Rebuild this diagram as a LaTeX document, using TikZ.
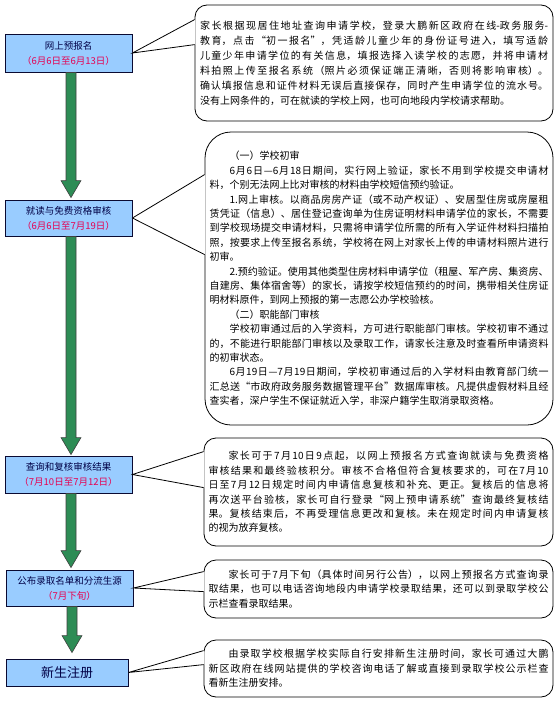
\documentclass[tikz,border=0pt]{standalone}
\usepackage{fontspec}
\newfontfamily\cjk{Noto Sans CJK SC}
\XeTeXlinebreaklocale "zh"
\XeTeXlinebreakskip=0pt plus 1.5pt
\hbadness=10000
\usetikzlibrary{positioning,calc}
\definecolor{boxblue}{RGB}{153,204,255}
\definecolor{boxline}{RGB}{10,10,50}
\definecolor{titlenavy}{RGB}{0,0,70}
\definecolor{datered}{RGB}{230,0,80}
\definecolor{arrowgreen}{RGB}{45,140,85}
\def\when#1{{\color{datered}#1}}
\def\indt{\hspace*{2em}}
% green block arrow from one step box down to the next
\newcommand\flowto[3]{%
  \draw[flowarrow] let \p1=([xshift=2.5pt]#1.south), \p2=([xshift=2.5pt]#2.north) in
    (\x1-5pt,\y1) -- (\x1-5pt,\y2+#3pt+17pt) -- (\x1-10pt,\y2+#3pt+17pt)
    -- (\x1,\y2+#3pt) -- (\x1+10pt,\y2+#3pt+17pt) -- (\x1+5pt,\y2+#3pt+17pt)
    -- (\x1+5pt,\y1) -- cycle;}

\begin{document}
\begin{tikzpicture}[x=1pt, y=-1pt,
    stepbox/.style = {draw=boxline, line width=0.9pt, fill=boxblue,
      minimum width=127pt, align=center, inner sep=2pt, text=titlenavy,
      font=\cjk\fontsize{9.5}{15}\selectfont},
    notebox/.style = {draw=black, line width=0.8pt, fill=white,
      rounded corners=12pt, minimum width=349pt, inner sep=4.5pt,
      text width=340pt, align=justify,
      font=\cjk\fontsize{10}{14.4}\selectfont},
    flowarrow/.style = {draw=black!75, line width=0.6pt, fill=arrowgreen},
    tail/.style = {draw=black, line width=0.8pt}]
\path[use as bounding box, fill=white] (0,0) rectangle (557,704);

% steps on the left
\node[stepbox, minimum height=38pt] (b1) at (68.5,53)
  {网上预报名\\\when{（6月6日至6月13日）}};
\node[stepbox, minimum height=36pt] (b2) at (68.5,218)
  {就读与免费资格审核\\\when{（6月6日至7月19日）}};
\node[stepbox, minimum height=37pt] (b3) at (68.5,474.5)
  {查询和复核审核结果\\\when{（7月10日至7月12日）}};
\node[stepbox, minimum height=36pt] (b4) at (69.5,588)
  {公布录取名单和分流生源\\\when{（7月下旬）}};
\node[stepbox, minimum height=27pt, minimum width=122pt,
      font=\cjk\fontsize{13}{15}\selectfont] (b5) at (67,672.5) {新生注册};

\flowto{b1}{b2}{2}
\flowto{b2}{b3}{1}
\flowto{b3}{b4}{2}
\flowto{b4}{b5}{6}

% notes on the right
\node[notebox, minimum width=358pt, minimum height=116pt, text width=348pt,
      font=\cjk\fontsize{10}{15}\selectfont] (c1) at (374,63) {%
家长根据现居住地址查询申请学校，登录大鹏新区政府在线-政务服务-\linebreak
教育，点击“初一报名”，凭适龄儿童少年的身份证号进入，填写适龄\linebreak
儿童少年申请学位的有关信息，填报选择入读学校的志愿，并将申请材\linebreak
料拍照上传至报名系统（照片必须保证端正清晰，否则将影响审核）。\linebreak
确认填报信息和证件材料无误后直接保存，同时产生申请学位的流水号。\linebreak
没有上网条件的，可在就读的学校上网，也可向地段内学校请求帮助。};

\node[notebox, rounded corners=26pt, minimum width=348pt, minimum height=293pt,
      text width=339pt] (c2) at (379,278.5) {%
\indt（一）学校初审\par
\indt 6月6日—6月18日期间，实行网上验证，家长不用到学校提交申请材\linebreak
料，个别无法网上比对审核的材料由学校短信预约验证。\par
\indt 1.网上审核。以商品房房产证（或不动产权证）、安居型住房或房屋租\linebreak
赁凭证（信息）、居住登记查询单为住房证明材料申请学位的家长，不需要\linebreak
到学校现场提交申请材料，只需将申请学位所需的所有入学证件材料扫描拍\linebreak
照，按要求上传至报名系统，学校将在网上对家长上传的申请材料照片进行\linebreak
初审。\par
\indt 2.预约验证。使用其他类型住房材料申请学位（租屋、军产房、集资房、\linebreak
自建房、集体宿舍等）的家长，请按学校短信预约的时间，携带相关住房证\linebreak
明材料原件，到网上预报的第一志愿公办学校验核。\par
\indt（二）职能部门审核\par
\indt 学校初审通过后的入学资料，方可进行职能部门审核。学校初审不通过\linebreak
的，不能进行职能部门审核以及录取工作，请家长注意及时查看所申请资料\linebreak
的初审状态。\par
\indt 6月19日—7月19日期间，学校初审通过后的入学材料由教育部门统一\linebreak
汇总送“市政府政务服务数据管理平台”数据库审核。凡提供虚假材料且经\linebreak
查实者，深户学生不保证就近入学，非深户籍学生取消录取资格。};

\node[notebox, minimum height=108pt] (c3) at (378.5,492) {%
\indt 家长可于7月10日9点起，以网上预报名方式查询就读与免费资格\linebreak
审核结果和最终验核积分。审核不合格但符合复核要求的，可在7月10\linebreak
日至7月12日规定时间内申请信息复核和补充、更正。复核后的信息将\linebreak
再次送平台验核，家长可自行登录“网上预申请系统”查询最终复核结\linebreak
果。复核结束后，不再受理信息更改和复核。未在规定时间内申请复核\linebreak
的视为放弃复核。};

\node[notebox, minimum height=58pt] (c4) at (378.5,589) {%
\indt 家长可于7月下旬（具体时间另行公告），以网上预报名方式查询录\linebreak
取结果，也可以电话咨询地段内申请学校录取结果，还可以到录取学校公\linebreak
示栏查看录取结果。};

\node[notebox, minimum height=57pt] (c5) at (378.5,668.5) {%
\indt 由录取学校根据学校实际自行安排新生注册时间，家长可通过大鹏\linebreak
新区政府在线网站提供的学校咨询电话了解或直接到录取学校公示栏查\linebreak
看新生注册安排。};

% callout tails
\foreach \n/\b/\ya/\yb in {c1/b1/15/40, c2/b2/43/123, c3/b3/14/50, c4/b4/12/32, c5/b5/11/25} {
  \fill[white] ([xshift=0.7pt,yshift=-\ya pt]\n.north west) -- (\b.east)
    -- ([xshift=0.7pt,yshift=-\yb pt]\n.north west) -- cycle;
  \draw[tail] ([yshift=-\ya pt]\n.north west) -- (\b.east)
    -- ([yshift=-\yb pt]\n.north west);
}
\end{tikzpicture}
\end{document}
